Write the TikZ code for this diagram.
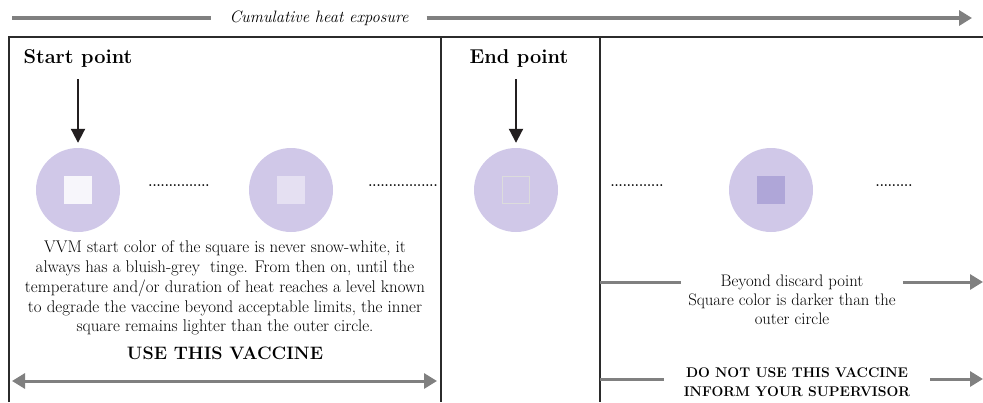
\documentclass[tikz,border=0pt]{standalone}
\usepackage{tikz}
\usetikzlibrary{arrows.meta,positioning,calc}
\definecolor{vvmcircle}{HTML}{D0C8E8}
\definecolor{sqstart}{HTML}{F7F6FB}
\definecolor{sqmid}{HTML}{E5E0F2}
\definecolor{sqedge}{HTML}{DCDCDC}
\definecolor{sqdark}{HTML}{AFA6D8}
\definecolor{arrowgray}{HTML}{808080}
\definecolor{framegray}{HTML}{2B2B2B}
\definecolor{pointblack}{HTML}{231F20}

\begin{document}
\begin{tikzpicture}[
    x=1pt, y=-1pt,
    vvm/.style={circle, fill=vvmcircle, minimum size=84pt, inner sep=0pt},
    sq/.style={rectangle, minimum size=28pt, inner sep=0pt},
    title/.style={font=\fontsize{20}{24}\selectfont\bfseries},
    dots/.style={font=\fontsize{13}{15}\selectfont\bfseries, inner sep=0pt},
    note/.style={align=center, font=\fontsize{16.9}{19.8}\selectfont},
    warn/.style={align=center, font=\fontsize{14}{19}\selectfont\bfseries, inner xsep=20pt},
    frame/.style={line width=1.2pt, draw=framegray},
    grayline/.style={line width=3.5pt, draw=arrowgray},
    grayarrow/.style={grayline, -{Triangle[length=13pt, width=15pt]}},
    pointer/.style={line width=2pt, draw=pointblack, -{Triangle[length=14pt, width=14pt]}},
]
    \useasboundingbox (0,0) rectangle (983,402);

    % Heat exposure axis
    \node[font=\fontsize{16.5}{18}\selectfont\itshape, inner xsep=18pt] (heat) at (319,18) {Cumulative heat exposure};
    \coordinate (hl) at (12,18);
    \coordinate (hr) at (972,18);
    \draw[grayline] (hl) -- (heat.west);
    \draw[grayarrow] (heat.east) -- (hr);

    % Frame
    \coordinate (ftl) at (9,37);
    \coordinate (ftr) at (983,37);
    \coordinate (fbl) at (9,402);
    \coordinate (fm1) at (441,37);
    \coordinate (fm2) at (600,37);
    \draw[frame] (fbl) -- (ftl) -- (ftr);
    \draw[frame] (fm1) -- (fm1 |- fbl);
    \draw[frame] (fm2) -- (fm2 |- fbl);

    % Titles
    \node[title] (start) at (78,58) {Start point};
    \node[title] (end) at (519,58) {End point};

    % VVM stages
    \node[vvm] (c1) at (78,190) {};
    \node[vvm] (c2) at (291,190) {};
    \node[vvm] (c3) at (516,190) {};
    \node[vvm] (c4) at (771,190) {};
    \node[sq, fill=sqstart] (s1) at (c1) {};
    \node[sq, fill=sqmid] (s2) at (c2) {};
    \node[sq, draw=sqedge, line width=1.5pt, minimum size=27pt] (s3) at (c3) {};
    \node[sq, fill=sqdark] (s4) at (c4) {};

    \node[dots] (d1) at (179,186) {...............};
    \node[dots] (d2) at (403,186) {.................};
    \node[dots] (d3) at (637,186) {.............};
    \node[dots] (d4) at (894,186) {.........};

    % Pointers
    \draw[pointer] ([yshift=-9pt]start.south -| c1.north) -- ([yshift=5pt]c1.north);
    \draw[pointer] ([yshift=-9pt]end.south -| c3.north) -- ([yshift=5pt]c3.north);

    % Use zone
    \node[note] (info) at (225,288) {VVM start color of the square is never snow-white, it\\
        always has a bluish-grey~ tinge. From then on, until the\\
        temperature and/or duration of heat reaches a level known\\
        to degrade the vaccine beyond acceptable limits, the inner\\
        square remains lighter than the outer circle.};
    \node[font=\fontsize{18}{20}\selectfont\bfseries] (use) at (225,353) {USE THIS VACCINE};
    \coordinate (ul) at (12,381);
    \coordinate (ur) at (437,381);
    \draw[grayline, line width=3pt, {Triangle[length=13pt, width=15pt]}-{Triangle[length=13pt, width=15pt]}] (ul) -- (ur);

    % Discard zone
    \node[note, font=\fontsize{16.7}{19}\selectfont, inner xsep=7pt] (beyond) at (792,300) {Beyond discard point\\
        Square color is darker than the\\
        outer circle};
    \coordinate (bl) at (600,282);
    \coordinate (br) at (983,282);
    \draw[grayline, line width=3pt] (bl) -- (bl -| beyond.west);
    \draw[grayarrow, line width=3pt] (br -| beyond.east) -- (br);

    \node[warn] (donot) at (797,382) {DO NOT USE THIS VACCINE\\INFORM YOUR SUPERVISOR};
    \coordinate (wl) at (600,379);
    \coordinate (wr) at (983,379);
    \draw[grayline, line width=3pt] (wl) -- (wl -| donot.west);
    \draw[grayarrow, line width=3pt] (wr -| donot.east) -- (wr);
\end{tikzpicture}
\end{document}
